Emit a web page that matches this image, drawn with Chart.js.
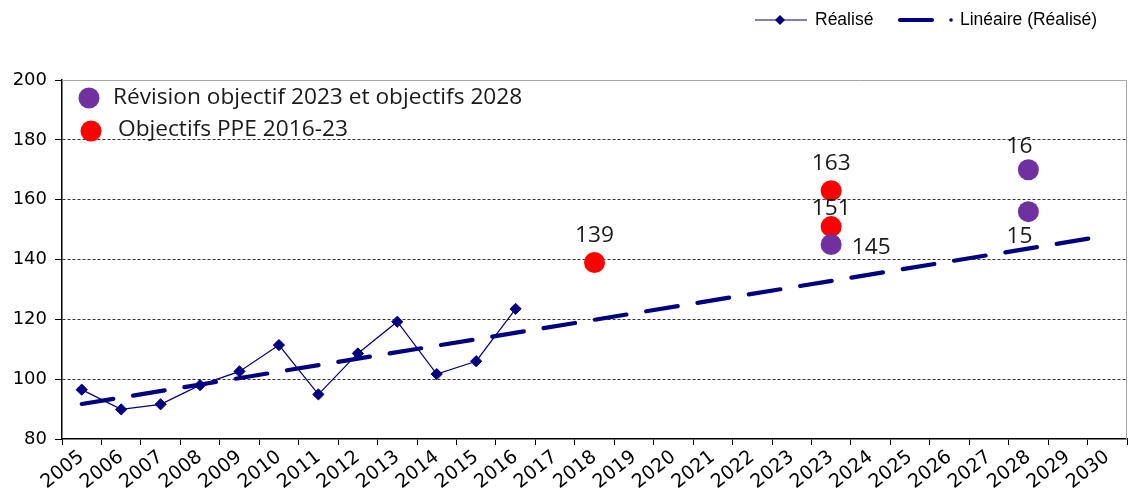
<!DOCTYPE html>
<html>
<head>
<meta charset="utf-8">
<script src="https://cdn.jsdelivr.net/npm/chart.js@4.4.0/dist/chart.umd.min.js"></script>
<style>
  html, body { margin: 0; padding: 0; background: #fff; }
</style>
</head>
<body>
<canvas id="myChart" width="1128" height="492"></canvas>
<script>
const annees = ['2005', '2006', '2007', '2008', '2009', '2010', '2011', '2012', '2013', '2014',
    '2015', '2016', '2017', '2018', '2019', '2020', '2021', '2022', '2023', '2023',
    '2024', '2025', '2026', '2027', '2028', '2029', '2030']
const realise = [96.5, 89.9, 91.6, 98.0, 102.6, 111.4, 94.9, 108.6, 119.2, 101.7, 106.0, 123.5]
// droite de tendance : valeur en 2005 et en 2030
const tendance = [91.7, 148.0]
const ppeAnnees = ['2018', '2023', '2023']
const ppeValeurs = [139, 163, 151]
const ppeTextes = ['139', '163', '151']
const revisionAnnees = ['2023', '2028', '2028']
const revisionValeurs = [145, 170, 156]
const revisionTextes = ['145', '16', '15']
const yMin = 80
const yMax = 200
const yPas = 20

const bleu = '#000080'
const violet = '#7030A0'
const rouge = '#FF0000'
const policeTexte = '21px "Open Sans"'
const etirement = 1.08

// décalage des étiquettes par rapport au point (px)
const ppeDecalages = [[0, -26], [0, -27], [0, -18]]
const revisionDecalages = [[40, 3], [-9, -23], [-9, 25]]

const dernier = annees.length - 1
const tendanceData = annees.map((a, i) => i === 0 ? tendance[0] : (i === dernier ? tendance[1] : null))
const points = (ans, vals) => ans.map((a, i) => ({x: annees.lastIndexOf(a), y: vals[i]}))

// texte un peu élargi horizontalement
function texteLarge(ctx, txt, x, y) {
    ctx.save()
    ctx.translate(x, y)
    ctx.scale(etirement, 1)
    ctx.fillText(txt, 0, 0)
    ctx.restore()
}

const decor = {
    id: 'decor',
    beforeDatasetsDraw(chart) {
        const {ctx, chartArea: a} = chart
        ctx.save()
        ctx.strokeStyle = '#a6a6a6'
        ctx.lineWidth = 1
        ctx.beginPath()
        ctx.moveTo(a.left, a.top + 0.5)
        ctx.lineTo(a.right - 0.5, a.top + 0.5)
        ctx.lineTo(a.right - 0.5, a.bottom)
        ctx.stroke()
        ctx.restore()
    },
    afterDatasetsDraw(chart) {
        const ctx = chart.ctx
        ctx.save()
        ctx.font = policeTexte
        ctx.fillStyle = '#1a1a1a'
        ctx.textAlign = 'center'
        ctx.textBaseline = 'middle'
        const etiquettes = (idx, textes, decalages) => {
            chart.getDatasetMeta(idx).data.forEach((pt, i) => {
                texteLarge(ctx, textes[i], pt.x + decalages[i][0], pt.y + decalages[i][1])
            })
        }
        etiquettes(2, ppeTextes, ppeDecalages)
        etiquettes(3, revisionTextes, revisionDecalages)
        ctx.restore()
    },
    afterDraw(chart) {
        const ctx = chart.ctx
        ctx.save()
        // légende du haut
        ctx.strokeStyle = bleu
        ctx.fillStyle = bleu
        ctx.lineWidth = 1.2
        ctx.beginPath()
        ctx.moveTo(755, 20)
        ctx.lineTo(807, 20)
        ctx.stroke()
        ctx.beginPath()
        ctx.moveTo(780, 15)
        ctx.lineTo(785, 20)
        ctx.lineTo(780, 25)
        ctx.lineTo(775, 20)
        ctx.closePath()
        ctx.fill()
        ctx.lineWidth = 4.2
        ctx.lineCap = 'round'
        ctx.beginPath()
        ctx.moveTo(900, 20)
        ctx.lineTo(932, 20)
        ctx.stroke()
        ctx.beginPath()
        ctx.arc(951, 20, 1.8, 0, Math.PI * 2)
        ctx.fill()
        ctx.fillStyle = '#000'
        ctx.font = '17.5px "Liberation Sans"'
        ctx.textBaseline = 'middle'
        ctx.fillText('Réalisé', 815, 20)
        ctx.fillText('Linéaire (Réalisé)', 960, 20)

        // légende des objectifs
        ctx.font = policeTexte
        ctx.fillStyle = violet
        ctx.beginPath()
        ctx.arc(89, 98, 10.5, 0, Math.PI * 2)
        ctx.fill()
        ctx.fillStyle = rouge
        ctx.beginPath()
        ctx.arc(91, 131, 10.5, 0, Math.PI * 2)
        ctx.fill()
        ctx.fillStyle = '#1a1a1a'
        texteLarge(ctx, 'Révision objectif 2023 et objectifs 2028', 113, 98)
        texteLarge(ctx, 'Objectifs PPE 2016-23', 118, 130)
        ctx.restore()
    }
}

const myChart = new Chart(document.getElementById('myChart'), {
    type: 'line',
    data: {
        labels: annees,
        datasets: [{
            label: 'Réalisé',
            data: realise,
            borderColor: bleu,
            backgroundColor: bleu,
            borderWidth: 1.2,
            pointStyle: 'rectRot',
            pointRadius: 5.6,
            pointBorderWidth: 1,
            order: 2
        }, {
            label: 'Linéaire (Réalisé)',
            data: tendanceData,
            spanGaps: true,
            borderColor: bleu,
            borderWidth: 4.2,
            borderDash: [32, 20],
            borderCapStyle: 'round',
            pointRadius: 0,
            order: 3
        }, {
            label: 'Objectifs PPE 2016-23',
            data: points(ppeAnnees, ppeValeurs),
            parsing: false,
            showLine: false,
            pointRadius: 10.5,
            pointBackgroundColor: rouge,
            pointBorderWidth: 0,
            order: 1
        }, {
            label: 'Révision objectif 2023 et objectifs 2028',
            data: points(revisionAnnees, revisionValeurs),
            parsing: false,
            showLine: false,
            pointRadius: 10.5,
            pointBackgroundColor: violet,
            pointBorderWidth: 0,
            order: 0
        }]
    },
    options: {
        responsive: false,
        animation: false,
        devicePixelRatio: 1,
        layout: { autoPadding: false, padding: { top: 80, right: 1, left: 0, bottom: 0 } },
        plugins: {
            legend: { display: false },
            tooltip: { enabled: false }
        },
        scales: {
            x: {
                offset: true,
                afterFit(scale) {
                    scale.height = 53
                    scale.paddingLeft = 0
                    scale.paddingRight = 0
                },
                grid: {
                    offset: true,
                    drawOnChartArea: false,
                    tickLength: 6,
                    tickColor: '#000'
                },
                border: { color: '#000', width: 1.5 },
                ticks: {
                    autoSkip: false,
                    minRotation: 38,
                    maxRotation: 38,
                    padding: 1,
                    color: '#000',
                    font: { family: 'DejaVu Sans', size: 19 }
                }
            },
            y: {
                min: yMin,
                max: yMax,
                afterFit(scale) { scale.width = 62 },
                grid: {
                    color: c => (c.tick.value === yMin || c.tick.value === yMax) ? 'rgba(0,0,0,0)' : '#333',
                    lineWidth: 1,
                    tickLength: 7,
                    tickColor: '#000',
                    tickBorderDash: []
                },
                border: { color: '#000', width: 1.5, dash: [3, 2] },
                ticks: {
                    stepSize: yPas,
                    padding: 8,
                    color: '#000',
                    font: { family: 'DejaVu Sans', size: 18 }
                }
            }
        }
    },
    plugins: [decor]
})
</script>
</body>
</html>
